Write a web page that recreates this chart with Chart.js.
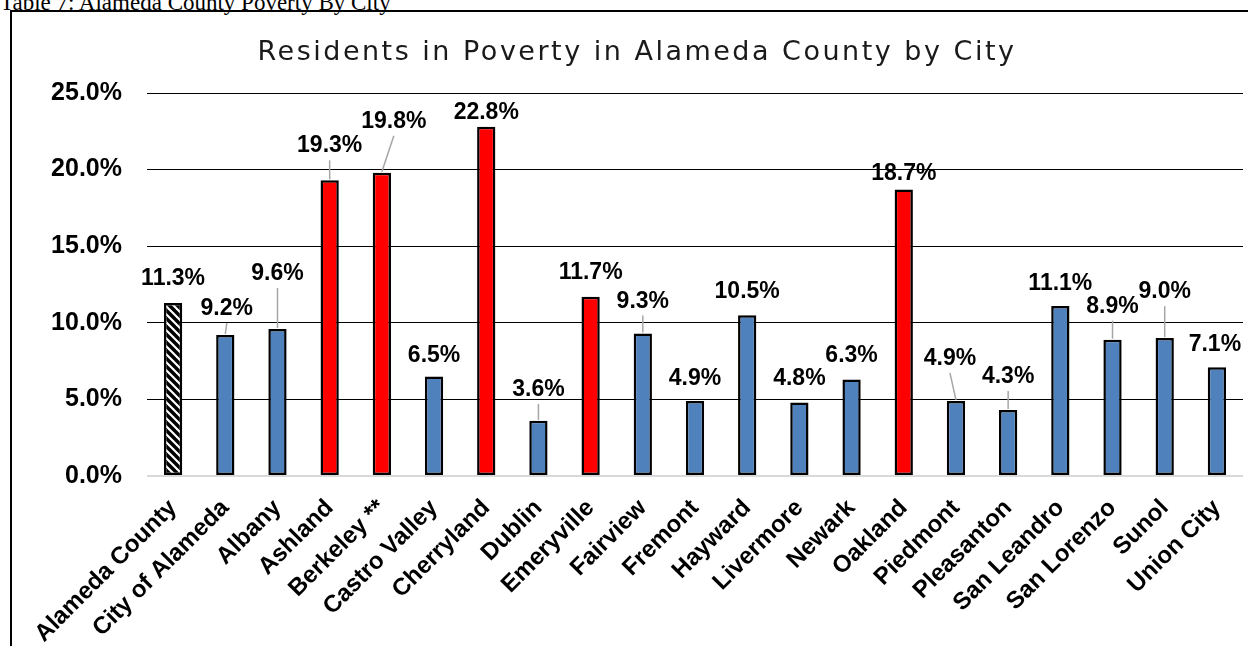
<!DOCTYPE html>
<html><head><meta charset="utf-8">
<script src="https://cdn.jsdelivr.net/npm/chart.js@4.4.1/dist/chart.umd.min.js"></script>
<style>
html,body{margin:0;padding:0;background:#fff;width:1248px;height:646px;overflow:hidden;}
#caption{position:absolute;left:0;top:-9px;font-family:"Liberation Serif","Times New Roman",serif;font-size:23px;line-height:23px;color:#000;white-space:nowrap;}
#frame{position:absolute;left:10px;top:10px;width:1300px;height:700px;border-left:2px solid #000;border-top:2px solid #000;}
#wrap{position:absolute;left:0;top:0;width:1248px;height:646px;}
</style></head><body>
<div id="caption">Table 7: Alameda County Poverty By City</div>
<div id="frame"></div>
<div id="wrap"><canvas id="c" width="1248" height="646"></canvas></div>
<script>
const chartTitle = 'Residents in Poverty in Alameda County by City';
const categories = ['Alameda County','City of Alameda','Albany','Ashland','Berkeley **','Castro Valley','Cherryland','Dublin','Emeryville','Fairview','Fremont','Hayward','Livermore','Newark','Oakland','Piedmont','Pleasanton','San Leandro','San Lorenzo','Sunol','Union City'];
const povertyRates = [11.3, 9.2, 9.6, 19.3, 19.8, 6.5, 22.8, 3.6, 11.7, 9.3, 4.9, 10.5, 4.8, 6.3, 18.7, 4.9, 4.3, 11.1, 8.9, 9.0, 7.1];
const categoryGroups = ['county','city','city','high','high','city','high','city','high','city','city','city','city','city','high','city','city','city','city','city','city'];
const yTickValues = [0, 5, 10, 15, 20, 25];
const yTickLabels = ['0.0%', '5.0%', '10.0%', '15.0%', '20.0%', '25.0%'];

// label placement (style): offset of label centre from bar top, and whether a leader line is drawn
const labelLayout = [
  {dx:0,dy:-26},{dx:1.5,dy:-28,leader:true},{dx:0,dy:-57,leader:true},{dx:0,dy:-36,leader:true},
  {dx:12,dy:-53,leader:true},{dx:0,dy:-22},{dx:0,dy:-16},{dx:0,dy:-33,leader:true},
  {dx:0,dy:-26},{dx:0,dy:-34,leader:true},{dx:0,dy:-24},{dx:0,dy:-25},{dx:0,dy:-25},
  {dx:0,dy:-25},{dx:0,dy:-18},{dx:-6,dy:-44,leader:true},{dx:0,dy:-35,leader:true},
  {dx:0,dy:-24},{dx:0,dy:-35,leader:true},{dx:0,dy:-48,leader:true},{dx:-2,dy:-24}
];

function hatch() {
  const p = document.createElement('canvas');
  p.width = 8; p.height = 8;
  const g = p.getContext('2d');
  g.fillStyle = '#fff'; g.fillRect(0,0,8,8);
  g.strokeStyle = '#000'; g.lineWidth = 3.5;
  for (const k of [-8,0,8]) { g.beginPath(); g.moveTo(k-1,-1); g.lineTo(k+9,9); g.stroke(); }
  return document.getElementById('c').getContext('2d').createPattern(p,'repeat');
}
const groupFill = {county: hatch(), city: '#4F81BD', high: '#FF0000'};

const titlePlugin = {
  id: 'spacedTitle',
  afterDraw(chart, args, o) {
    const ctx = chart.ctx;
    ctx.save();
    ctx.font = o.font;
    ctx.fillStyle = o.color;
    ctx.letterSpacing = o.spacing;
    ctx.textAlign = 'center';
    ctx.textBaseline = 'middle';
    ctx.fillText(o.text, o.x, o.y);
    ctx.restore();
  }
};

const labelPlugin = {
  id: 'barLabels',
  afterDatasetsDraw(chart, args, o) {
    const meta = chart.getDatasetMeta(0);
    const ctx = chart.ctx;
    const vals = chart.data.datasets[0].data;
    ctx.save();
    meta.data.forEach((bar, i) => {
      const L = o.layout[i];
      const lx = bar.x + L.dx, ly = bar.y + L.dy;
      if (L.leader) {
        ctx.strokeStyle = o.leaderColor; ctx.lineWidth = 1.5;
        ctx.beginPath(); ctx.moveTo(lx, ly + 16); ctx.lineTo(bar.x, bar.y - 1); ctx.stroke();
      }
      ctx.font = o.font; ctx.fillStyle = '#000';
      ctx.textAlign = 'center'; ctx.textBaseline = 'alphabetic';
      ctx.fillText(vals[i].toFixed(1) + '%', lx, ly + 8);
    });
    ctx.restore();
  }
};

new Chart(document.getElementById('c'), {
  type: 'bar',
  data: {
    labels: categories,
    datasets: [{
      data: povertyRates,
      backgroundColor: categoryGroups.map(g => groupFill[g]),
      borderColor: '#000',
      borderWidth: 2.5,
      borderSkipped: false,
      categoryPercentage: 1,
      barPercentage: 0.35
    }]
  },
  options: {
    responsive: false,
    animation: false,
    layout: {padding: {top: 93, right: 5, left: 0, bottom: 0}},
    plugins: {
      legend: {display: false},
      title: {display: false},
      tooltip: {enabled: false},
      spacedTitle: {text: chartTitle, font: '27px "DejaVu Sans"', color: '#1a1a1a', spacing: '2.5px', x: 637, y: 53},
      barLabels: {layout: labelLayout, font: 'bold 23px "Liberation Sans", Arial, sans-serif', leaderColor: '#a6a6a6'}
    },
    scales: {
      x: {
        grid: {display: false},
        border: {display: false},
        ticks: {
          autoSkip: false, maxRotation: 45, minRotation: 45, padding: 10, color: '#000',
          font: {family: '"Liberation Sans", Arial, sans-serif', size: 24, weight: 'bold'}
        },
        afterFit(s) { s.height = 170; }
      },
      y: {
        min: 0, max: 25,
        border: {display: false},
        grid: {
          drawTicks: false,
          color: c => (c.tick && c.tick.value === 0) ? '#d9d9d9' : '#000',
          lineWidth: c => (c.tick && c.tick.value === 0) ? 2 : 1
        },
        ticks: {
          stepSize: 5, padding: 25, color: '#000',
          font: {family: '"Liberation Sans", Arial, sans-serif', size: 25, weight: 'bold'},
          callback: v => yTickLabels[yTickValues.indexOf(v)]
        },
        afterFit(s) { s.width = 147; }
      }
    }
  },
  plugins: [titlePlugin, labelPlugin]
});
</script>
</body></html>
